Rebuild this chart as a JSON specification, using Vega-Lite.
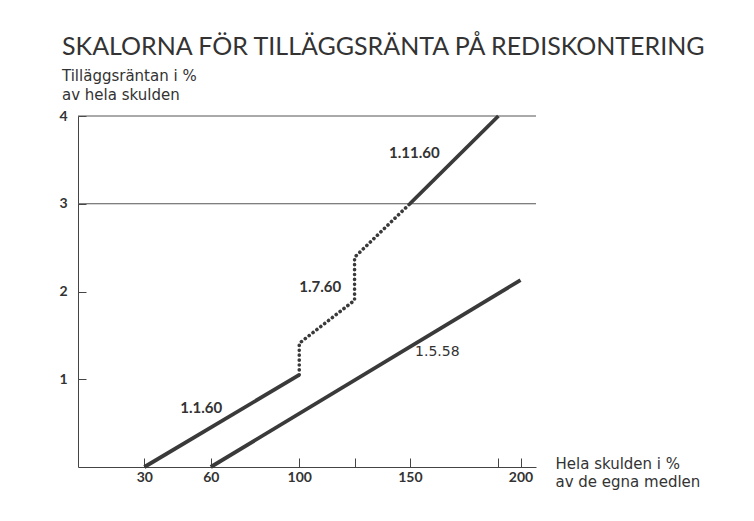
{
  "$schema": "https://vega.github.io/schema/vega-lite/v6.json",
  "width": 458,
  "height": 351,
  "autosize": {"type": "none"},
  "padding": {"left": 78, "top": 116, "right": 218, "bottom": 54},
  "background": "white",
  "config": {"view": {"stroke": null}, "font": "Lato"},
  "title": {
    "text": "SKALORNA FÖR TILLÄGGSRÄNTA PÅ REDISKONTERING",
    "subtitle": ["Tilläggsräntan i %", "av hela skulden"],
    "anchor": "start",
    "frame": "group",
    "dx": -16,
    "offset": 5,
    "font": "Lato",
    "fontSize": 25,
    "fontWeight": "normal",
    "color": "#333333",
    "subtitleFont": "DejaVu Sans",
    "subtitleFontSize": 15,
    "subtitleColor": "#333333",
    "subtitlePadding": 9,
    "subtitleLineHeight": 19
  },
  "datasets": {
    "grid": [{"y": 3}, {"y": 4}],
    "solid": [
      {"series": "1.1.60", "order": 1, "x": 30, "y": 0},
      {"series": "1.1.60", "order": 2, "x": 100, "y": 1.05},
      {"series": "1.11.60", "order": 1, "x": 150, "y": 3.0},
      {"series": "1.11.60", "order": 2, "x": 190, "y": 4.0},
      {"series": "1.5.58", "order": 1, "x": 60, "y": 0},
      {"series": "1.5.58", "order": 2, "x": 200, "y": 2.13}
    ],
    "dotted": [
      {"series": "1.7.60", "order": 1, "x": 100, "y": 1.05},
      {"series": "1.7.60", "order": 2, "x": 100, "y": 1.41},
      {"series": "1.7.60", "order": 3, "x": 125, "y": 1.9},
      {"series": "1.7.60", "order": 4, "x": 125, "y": 2.39},
      {"series": "1.7.60", "order": 5, "x": 150, "y": 3.0}
    ],
    "labelsBold": [
      {"label": "1.1.60", "x": 55.7, "y": 0.67},
      {"label": "1.7.60", "x": 109.5, "y": 2.05},
      {"label": "1.11.60", "x": 152, "y": 3.58}
    ],
    "labelsNormal": [
      {"label": "1.5.58", "x": 162.4, "y": 1.31}
    ]
  },
  "layer": [
    {
      "data": {"name": "grid"},
      "mark": {"type": "rule", "color": "#555555", "strokeWidth": 1},
      "encoding": {
        "y": {"field": "y", "type": "quantitative"}
      }
    },
    {
      "data": {"name": "solid"},
      "mark": {"type": "line", "color": "#3a3a3a", "strokeWidth": 3.8, "strokeCap": "butt"},
      "encoding": {
        "x": {
          "field": "x",
          "type": "quantitative",
          "scale": {"domain": [0, 207], "nice": false, "zero": false},
          "axis": {
            "values": [30, 60, 100, 125, 150, 190, 200],
            "labelExpr": "datum.value == 125 || datum.value == 190 ? '' : datum.label",
            "grid": false,
            "tickSize": -9,
            "tickWidth": 1,
            "labelPadding": 12,
            "domainColor": "#444444",
            "tickColor": "#444444",
            "labelFont": "Lato",
            "labelFontSize": 14,
            "labelFontWeight": "bold",
            "labelColor": "#333333",
            "title": ["Hela skulden i %", "av de egna medlen"],
            "titleAngle": 0,
            "titleAlign": "left",
            "titleBaseline": "alphabetic",
            "titleX": 477,
            "titleY": 1,
            "titleFont": "DejaVu Sans",
            "titleFontSize": 15,
            "titleFontWeight": "normal",
            "titleColor": "#333333",
            "titleLineHeight": 18
          }
        },
        "y": {
          "field": "y",
          "type": "quantitative",
          "scale": {"domain": [0, 4], "nice": false},
          "axis": {
            "values": [1, 2, 3, 4],
            "format": "d",
            "grid": false,
            "tickSize": -8,
            "tickWidth": 1,
            "labelPadding": 19,
            "domainColor": "#444444",
            "tickColor": "#444444",
            "labelFont": "Lato",
            "labelFontSize": 14,
            "labelFontWeight": "bold",
            "labelColor": "#333333",
            "title": null
          }
        },
        "detail": {"field": "series"},
        "order": {"field": "order", "type": "quantitative"}
      }
    },
    {
      "data": {"name": "dotted"},
      "mark": {"type": "line", "color": "#3a3a3a", "strokeWidth": 3.6, "strokeCap": "round", "strokeDash": [0.1, 4.8]},
      "encoding": {
        "x": {"field": "x", "type": "quantitative"},
        "y": {"field": "y", "type": "quantitative"},
        "order": {"field": "order", "type": "quantitative"}
      }
    },
    {
      "data": {"name": "labelsBold"},
      "mark": {"type": "text", "font": "Lato", "fontSize": 15, "fontWeight": "bold", "color": "#333333"},
      "encoding": {
        "x": {"field": "x", "type": "quantitative"},
        "y": {"field": "y", "type": "quantitative"},
        "text": {"field": "label"}
      }
    },
    {
      "data": {"name": "labelsNormal"},
      "mark": {"type": "text", "font": "DejaVu Sans", "fontSize": 14, "fontWeight": "normal", "color": "#333333"},
      "encoding": {
        "x": {"field": "x", "type": "quantitative"},
        "y": {"field": "y", "type": "quantitative"},
        "text": {"field": "label"}
      }
    }
  ]
}
